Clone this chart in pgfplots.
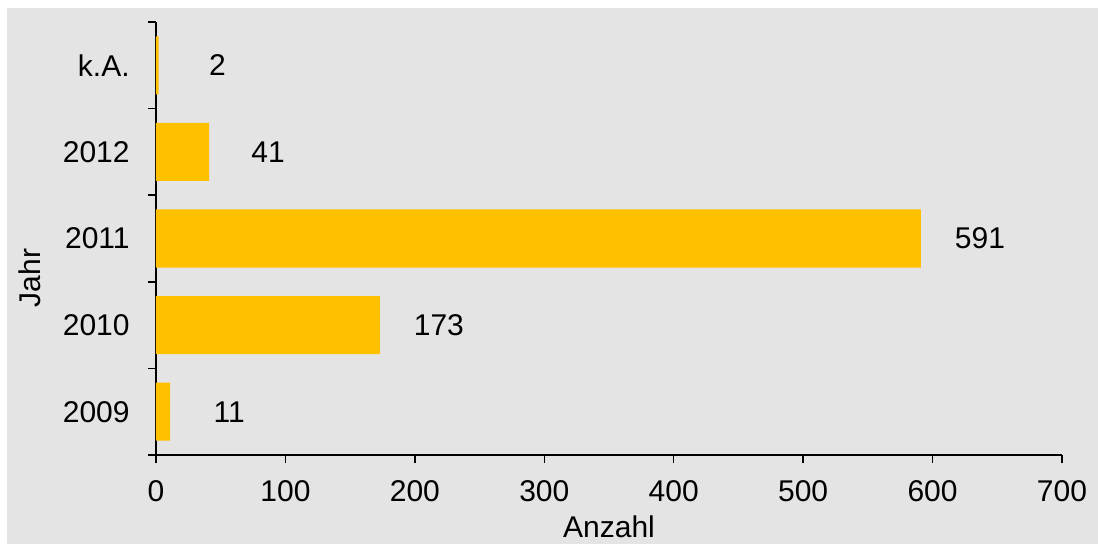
\documentclass[border=0pt]{standalone}
\usepackage{fontspec}
\setmainfont{Liberation Sans}
\usepackage{pgfplots}
\pgfplotsset{compat=1.18}
\definecolor{panelgray}{HTML}{E4E4E4}
\definecolor{baryellow}{HTML}{FFC000}
\newcommand{\chartfont}{\fontsize{15}{18}\selectfont}
\begin{document}
\begin{tikzpicture}[font=\chartfont]
\useasboundingbox (-78pt,-44.5pt) rectangle (471pt,227.5pt);
% panel background
\fill[panelgray] (-74.5pt,-44.5pt) rectangle (471pt,223.5pt);
\begin{axis}[
  at={(0,0)}, anchor=south west,
  scale only axis, width=453pt, height=216.5pt,
  xbar, bar width=0.67,
  xmin=0, xmax=700, ymin=-0.5, ymax=4.5,
  axis x line*=bottom, axis y line*=left,
  axis line style={black, line width=0.75pt},
  tick align=outside,
  major tick length=4pt,
  tick style={black, line width=0.75pt},
  xtick={0,100,...,700},
  ytick={-0.5,0.5,1.5,2.5,3.5,4.5},
  yticklabels={},
  extra y ticks={0,1,2,3,4},
  extra y tick labels={2009,2010,2011,2012,k.A.},
  extra y tick style={major tick length=0pt, tick style={draw=none}},
  /pgf/number format/assume math mode=true,
  tick label style={font=\chartfont},
  xticklabel style={inner sep=0pt, anchor=north, yshift=-8.5pt},
  yticklabel style={inner sep=0pt, anchor=east, xshift=-13pt},
  label style={font=\chartfont},
  xlabel={Anzahl},
  xlabel style={at={(axis description cs:0.5,-0.1917)}, anchor=base},
  ylabel={Jahr},
  ylabel style={at={(axis description cs:-0.139,0.409)}, anchor=center, rotate=0},
  point meta=x,
  nodes near coords,
  nodes near coords style={anchor=center, xshift=29.5pt, font=\chartfont, text=black},
]
\addplot[fill=baryellow, draw=none] coordinates {
  (11,0) (173,1) (591,2) (41,3) (2,4)
};
\end{axis}
\end{tikzpicture}
\end{document}
